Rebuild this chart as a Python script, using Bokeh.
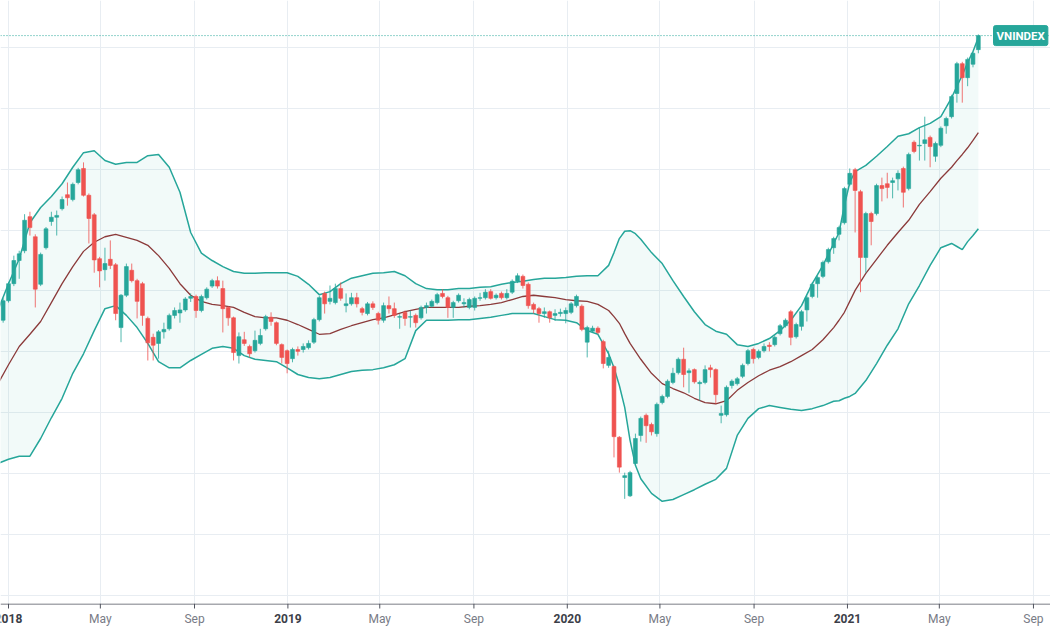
import pandas as pd
from bokeh.plotting import figure
from bokeh.layouts import column
from bokeh.models import FixedTicker, Span, Label, ColumnDataSource, Range1d
from bokeh.core.properties import field, value
from bokeh.embed import file_html
from bokeh.resources import INLINE

# ---------------- data (weekly VNINDEX candles, first week 2017-12-25) ----------------
first_week = "2017-12-25"
open_ = [952, 984, 1012, 1050, 1066, 1122, 1089, 1011, 1071, 1114, 1121, 1135, 1158, 1150, 1178, 1201,
         1157, 1125, 1053, 1035, 1052, 1043, 940, 993, 1034, 1017, 1012, 955, 924, 914, 933, 938,
         960, 964, 969, 988, 991, 968, 989, 1008, 1017, 1004, 973, 956, 894, 920, 909, 902,
         914, 938, 957, 948, 912, 902, 889, 904, 904, 907, 916, 953, 996, 983, 981, 1004,
         976, 979, 989, 971, 963, 979, 963, 952, 976, 971, 957, 965, 957, 960, 956, 973,
         975, 981, 996, 989, 973, 984, 979, 973, 973, 988, 989, 999, 989, 996, 989, 998,
         1016, 1024, 1011, 978, 971, 963, 966, 960, 963, 963, 965, 976, 975, 916, 934, 939,
         917, 878, 876, 760, 694, 664, 717, 763, 796, 781, 766, 817, 827, 850, 866, 888,
         866, 871, 848, 850, 874, 871, 796, 797, 845, 848, 860, 881, 904, 891, 902, 911,
         912, 930, 943, 966, 925, 942, 969, 991, 1012, 1024, 1048, 1071, 1093, 1112, 1175, 1199,
         1163, 1055, 1127, 1127, 1173, 1176, 1178, 1184, 1201, 1168, 1244, 1238, 1242, 1252, 1221, 1239,
         1271, 1286, 1324, 1373, 1350, 1372, 1396]
high = [988, 1015, 1058, 1066, 1126, 1130, 1093, 1063, 1105, 1130, 1132, 1155, 1178, 1178, 1202, 1211,
        1160, 1128, 1056, 1071, 1083, 1046, 995, 1045, 1045, 1020, 1015, 958, 930, 936, 948, 963,
        973, 981, 990, 996, 994, 994, 1006, 1020, 1024, 1017, 975, 958, 932, 933, 912, 935,
        938, 961, 965, 950, 914, 904, 907, 909, 914, 919, 956, 992, 999, 1009, 1012, 1014,
        996, 997, 997, 974, 982, 983, 966, 981, 991, 981, 962, 968, 968, 963, 976, 981,
        986, 997, 1003, 992, 984, 996, 988, 989, 991, 997, 1003, 1003, 996, 999, 1003, 1019,
        1029, 1027, 1014, 981, 974, 973, 968, 970, 971, 973, 982, 994, 978, 943, 943, 942,
        920, 902, 878, 762, 702, 705, 766, 794, 799, 784, 817, 830, 855, 874, 891, 907,
        873, 873, 853, 878, 879, 873, 812, 845, 855, 859, 881, 905, 907, 904, 914, 916,
        927, 946, 955, 969, 948, 969, 992, 1014, 1025, 1050, 1071, 1089, 1107, 1171, 1201, 1202,
        1166, 1130, 1130, 1176, 1186, 1194, 1186, 1198, 1204, 1227, 1247, 1268, 1286, 1255, 1245, 1270,
        1286, 1322, 1376, 1376, 1383, 1393, 1421]
low = [948, 981, 1008, 1020, 1062, 1091, 973, 1008, 1068, 1107, 1091, 1132, 1140, 1147, 1175, 1155,
       1078, 1030, 1006, 1017, 1036, 952, 916, 990, 1014, 955, 943, 886, 886, 889, 922, 935,
       955, 948, 966, 982, 956, 965, 986, 1005, 1004, 932, 943, 886, 881, 910, 891, 899,
       911, 935, 943, 911, 881, 865, 883, 894, 899, 904, 913, 950, 963, 978, 978, 984,
       965, 976, 973, 960, 960, 969, 945, 948, 963, 956, 938, 943, 940, 940, 953, 963,
       973, 978, 988, 956, 956, 981, 973, 970, 968, 984, 986, 986, 986, 986, 986, 995,
       1013, 1004, 971, 963, 948, 956, 948, 951, 958, 947, 962, 973, 934, 891, 932, 929,
       873, 874, 727, 702, 659, 662, 714, 753, 751, 763, 761, 814, 824, 847, 863, 842,
       833, 848, 820, 847, 858, 815, 783, 794, 840, 845, 857, 878, 881, 888, 899, 901,
       909, 927, 940, 911, 922, 935, 950, 988, 989, 1021, 1045, 1061, 1083, 1109, 1172, 1096,
       998, 1030, 1075, 1124, 1147, 1152, 1152, 1165, 1137, 1165, 1226, 1214, 1214, 1203, 1212, 1236,
       1258, 1283, 1309, 1309, 1336, 1367, 1390]
close = [984, 1012, 1050, 1061, 1116, 1104, 1003, 1060, 1102, 1121, 1124, 1150, 1153, 1175, 1199, 1157,
         1119, 1051, 1033, 1045, 1042, 963, 993, 1040, 1017, 983, 960, 915, 911, 933, 937, 960,
         968, 969, 987, 991, 968, 991, 1003, 1017, 1008, 971, 956, 899, 925, 914, 897, 919,
         927, 958, 950, 914, 891, 881, 904, 901, 909, 914, 953, 989, 979, 988, 1004, 988,
         979, 989, 979, 965, 979, 973, 952, 976, 971, 960, 958, 955, 958, 948, 973, 976,
         983, 994, 991, 973, 981, 993, 981, 986, 988, 989, 998, 988, 993, 989, 996, 1016,
         1025, 1009, 976, 970, 963, 966, 956, 963, 965, 968, 979, 991, 937, 940, 939, 932,
         881, 891, 761, 711, 697, 702, 758, 791, 779, 769, 814, 827, 852, 865, 888, 863,
         869, 851, 850, 871, 871, 830, 799, 842, 852, 856, 878, 902, 889, 901, 909, 909,
         924, 943, 952, 924, 945, 966, 989, 1011, 1022, 1047, 1068, 1086, 1104, 1168, 1193, 1165,
         1055, 1127, 1114, 1173, 1168, 1170, 1181, 1193, 1162, 1224, 1229, 1239, 1248, 1237, 1242, 1267,
         1283, 1319, 1373, 1350, 1380, 1390, 1419]

# Bollinger Bands (20, 2); weeks counted from 2018-01-01
band_week = [-2, 0, 2, 4, 6, 8, 10, 12, 14, 16, 18, 20, 22, 24, 26, 28, 30, 32, 34, 36,
             38, 40, 42, 44, 46, 48, 50, 52, 54, 56, 58, 60, 62, 64, 66, 68, 70, 72, 74, 76,
             78, 80, 82, 84, 86, 88, 90, 92, 94, 96, 98, 100, 102, 104, 106, 108, 110, 112,
             113, 114, 115, 116, 117, 118, 120, 122, 124, 126, 128, 130, 132, 134, 136, 138,
             140, 142, 144, 146, 148, 150, 152, 154, 155, 156, 157, 158, 160, 162, 164, 166,
             168, 170, 172, 174, 176, 177, 178, 179, 180, 181]
bb_upper = [968, 1012, 1053, 1112, 1137, 1155, 1176, 1203, 1227, 1230, 1214, 1208, 1211, 1211, 1222, 1224, 1203, 1162, 1096, 1062,
            1050, 1040, 1032, 1029, 1029, 1030, 1030, 1030, 1024, 1011, 994, 999, 1012, 1021, 1025, 1029, 1030, 1032, 1025, 1012,
            1004, 1002, 1002, 1004, 1004, 1006, 1007, 1011, 1014, 1016, 1019, 1021, 1021, 1022, 1024, 1025, 1025, 1042,
            1063, 1086, 1098, 1099, 1094, 1085, 1063, 1045, 1017, 991, 966, 945, 934, 929, 912, 909,
            914, 922, 935, 952, 976, 1012, 1042, 1078, 1096, 1140, 1178, 1196, 1206, 1221, 1237, 1254,
            1258, 1268, 1275, 1286, 1317, 1336, 1354, 1375, 1393, 1416]
bb_basis = [847, 879, 909, 929, 950, 981, 1012, 1040, 1065, 1080, 1089, 1093, 1088, 1083, 1075, 1058, 1037, 1012, 993, 983,
            978, 976, 973, 965, 958, 956, 956, 952, 945, 937, 929, 930, 937, 943, 948, 953, 956, 961, 966, 970,
            973, 973, 973, 973, 975, 976, 978, 981, 986, 991, 993, 991, 989, 986, 984, 983, 978, 968,
            958, 947, 930, 914, 901, 888, 865, 848, 840, 833, 824, 817, 815, 820, 837, 850,
            861, 870, 876, 884, 894, 904, 920, 940, 952, 965, 983, 1001, 1029, 1052, 1075, 1096,
            1116, 1142, 1163, 1185, 1203, 1214, 1224, 1235, 1247, 1260]
bb_lower = [717, 724, 729, 729, 758, 792, 824, 865, 897, 935, 971, 976, 960, 940, 914, 884, 874, 874, 886, 896,
            906, 909, 906, 894, 888, 886, 884, 874, 863, 858, 856, 858, 863, 868, 870, 871, 874, 879, 889, 935,
            952, 952, 952, 953, 953, 955, 957, 960, 963, 963, 963, 958, 953, 952, 948, 935, 929, 897,
            874, 845, 809, 755, 714, 692, 668, 655, 658, 666, 674, 683, 691, 709, 763, 791,
            807, 812, 809, 806, 804, 807, 812, 819, 820, 824, 827, 832, 853, 881, 911, 938,
            979, 1009, 1042, 1071, 1078, 1073, 1068, 1081, 1091, 1102]

tick_dates = ["2018-01-01", "2018-05-01", "2018-09-01", "2019-01-01", "2019-05-01", "2019-09-01",
              "2020-01-01", "2020-05-01", "2020-09-01", "2021-01-01", "2021-05-01", "2021-09-01"]
tick_labels = ["2018", "May", "Sep", "2019", "May", "Sep", "2020", "May", "Sep", "2021", "May", "Sep"]
grid_levels = [500, 600, 700, 800, 900, 1000, 1100, 1200, 1300, 1400]
symbol = "VNINDEX"

UP = "#26a69a"
DOWN = "#ef5350"
GRID = "#e8edf2"

# ---------------- build ----------------
dates = pd.date_range(first_week, periods=len(close), freq="7D")
colors = [UP if c >= o else DOWN for o, c in zip(open_, close)]
src = ColumnDataSource(dict(
    x=dates, open=open_, high=high, low=low, close=close,
    top=[max(o, c) for o, c in zip(open_, close)],
    bottom=[min(o, c) for o, c in zip(open_, close)],
    color=colors,
))
band_dates = pd.Timestamp("2018-01-01") + pd.to_timedelta([7 * w for w in band_week], unit="D")
bsrc = ColumnDataSource(dict(x=band_dates, upper=bb_upper, basis=bb_basis, lower=bb_lower))

xr = Range1d(pd.Timestamp("2017-12-21 13:10"), pd.Timestamp("2021-09-23 06:00"))

p = figure(width=1050, height=603, x_axis_type="datetime",
           x_axis_location=None, y_axis_location=None,
           x_range=xr, y_range=Range1d(487.3, 1476.6),
           output_backend="svg", toolbar_location=None,
           min_border_left=0, min_border_right=0, min_border_top=0, min_border_bottom=0)
p.outline_line_color = None
p.background_fill_color = "white"
p.border_fill_color = "white"

tick_ms = [pd.Timestamp(d).value / 1e6 for d in tick_dates]
p.xgrid.ticker = FixedTicker(ticks=tick_ms)
p.ygrid.ticker = FixedTicker(ticks=grid_levels)
p.grid.grid_line_color = GRID
p.grid.grid_line_width = 1

# Bollinger band fill and lines
p.varea(x="x", y1="lower", y2="upper", source=bsrc, fill_color=UP, fill_alpha=0.06)
p.line(x="x", y="upper", source=bsrc, line_color=UP, line_width=1.5)
p.line(x="x", y="lower", source=bsrc, line_color=UP, line_width=1.5)
p.line(x="x", y="basis", source=bsrc, line_color="#8b3a3a", line_width=1.3)

# candles
week_ms = 7 * 24 * 3600 * 1000
p.segment(x0="x", y0="low", x1="x", y1="high", source=src, line_color="color", line_width=1, line_alpha=0.8)
p.vbar(x="x", width=week_ms * 0.72, top="top", bottom="bottom", source=src,
       fill_color="color", line_color="color", line_width=0.6)

# last price line and symbol tag
p.add_layout(Span(location=close[-1], dimension="width", line_color=UP, line_dash="1 2", line_width=1))
p.add_layout(Label(x=993, y=close[-1], x_units="screen", y_units="data", text=symbol,
                   text_align="left", text_baseline="middle", text_color="white",
                   text_font="Roboto", text_font_size="11.5px", text_font_style="bold",
                   background_fill_color=UP, border_line_color=UP, padding=3, border_radius=2))

# ---------------- time axis strip ----------------
ax = figure(width=1050, height=27, x_range=xr, y_range=Range1d(0, 27),
            x_axis_location=None, y_axis_location=None,
            output_backend="svg", toolbar_location=None,
            min_border_left=0, min_border_right=0, min_border_top=0, min_border_bottom=0)
ax.outline_line_color = None
ax.grid.visible = False
ax.background_fill_color = "white"
ax.border_fill_color = "white"

tsrc = ColumnDataSource(dict(
    x=tick_ms, label=tick_labels,
    style=["bold" if lab.isdigit() else "normal" for lab in tick_labels],
    color=["#3b3e48" if lab.isdigit() else "#787b86" for lab in tick_labels],
))
ax.add_layout(Span(location=26.5, dimension="width", line_color="#50535e", line_width=1))
ax.segment(x0="x", y0=27, x1="x", y1=22, source=tsrc, line_color="#50535e", line_width=1)
ax.text(x="x", y=12, text="label", source=tsrc, text_align="center", text_baseline="middle",
        text_font=value("Roboto"), text_font_size="12px",
        text_font_style=field("style"), text_color="color")

layout = column(p, ax, spacing=0)
open("out.html", "w").write(file_html(layout, INLINE))
